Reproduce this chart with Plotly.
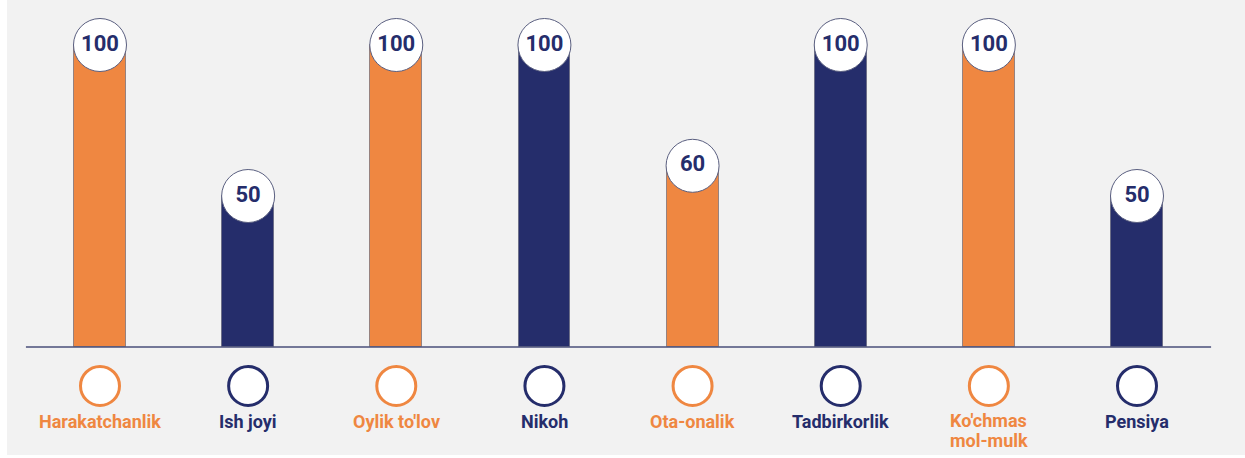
import plotly.graph_objects as go

categories = ["Harakatchanlik", "Ish joyi", "Oylik to'lov", "Nikoh", "Ota-onalik",
              "Tadbirkorlik", "Ko'chmas<br>mol-mulk", "Pensiya"]
values = [100, 50, 100, 100, 60, 100, 100, 50]
value_labels = ["100", "50", "100", "100", "60", "100", "100", "50"]

ORANGE = "#EF8741"
NAVY = "#252D6B"
bar_colors = [ORANGE, NAVY, ORANGE, NAVY, ORANGE, NAVY, ORANGE, NAVY]

BG = "#F2F2F2"
FONT = "Roboto, Liberation Sans, sans-serif"

x = list(range(len(categories)))

fig = go.Figure()

fig.add_trace(go.Bar(
    x=x, y=values, width=0.35,
    marker=dict(color=bar_colors, line=dict(color="rgba(90,90,110,0.6)", width=1)),
    hoverinfo="skip", showlegend=False,
))

# value bubbles on top of bars
fig.add_trace(go.Scatter(
    x=x, y=values, mode="markers+text",
    marker=dict(size=53, color="white", line=dict(color="#5A5F80", width=1)),
    text=value_labels, textposition="middle center",
    textfont=dict(family=FONT, size=22, color=NAVY, weight="bold"),
    hoverinfo="skip", showlegend=False,
))

# open circles under the axis
fig.add_trace(go.Scatter(
    x=x, y=[-12.9] * len(x), mode="markers",
    marker=dict(size=39, color="white", line=dict(color=bar_colors, width=3)),
    hoverinfo="skip", showlegend=False, cliponaxis=False,
))

for xi, cat, col in zip(x, categories, bar_colors):
    lines = cat.split("<br>")
    for k, line in enumerate(lines):
        fig.add_annotation(
            x=xi, y=-21.9, text=line, showarrow=False, yanchor="top", xanchor="center",
            yshift=(4 if len(lines) > 1 else 3) - 20 * k, borderpad=0,
            font=dict(family=FONT, size=18, color=col, weight="bold"),
        )

# baseline
fig.add_shape(type="line", x0=-0.5, x1=7.5, y0=0, y1=0,
              line=dict(color="#4A4F7A", width=1.5), layer="above")

# light background panel (white rim at left/bottom like the source)
fig.add_shape(type="rect", xref="paper", yref="paper",
              x0=7 / 1245, x1=1, y0=3 / 458, y1=1,
              fillcolor=BG, line=dict(width=0), layer="below")

fig.update_layout(
    width=1245, height=458,
    margin=dict(l=0, r=0, t=0, b=0),
    paper_bgcolor="white", plot_bgcolor="rgba(0,0,0,0)",
    xaxis=dict(range=[-0.675, 7.729], visible=False, fixedrange=True),
    yaxis=dict(range=[-36.75, 114.9], visible=False, fixedrange=True),
    bargap=0,
)

fig.write_html("out.html", config={"displayModeBar": False},
               post_script="document.body.style.margin='0px';document.body.style.overflow='hidden';")
